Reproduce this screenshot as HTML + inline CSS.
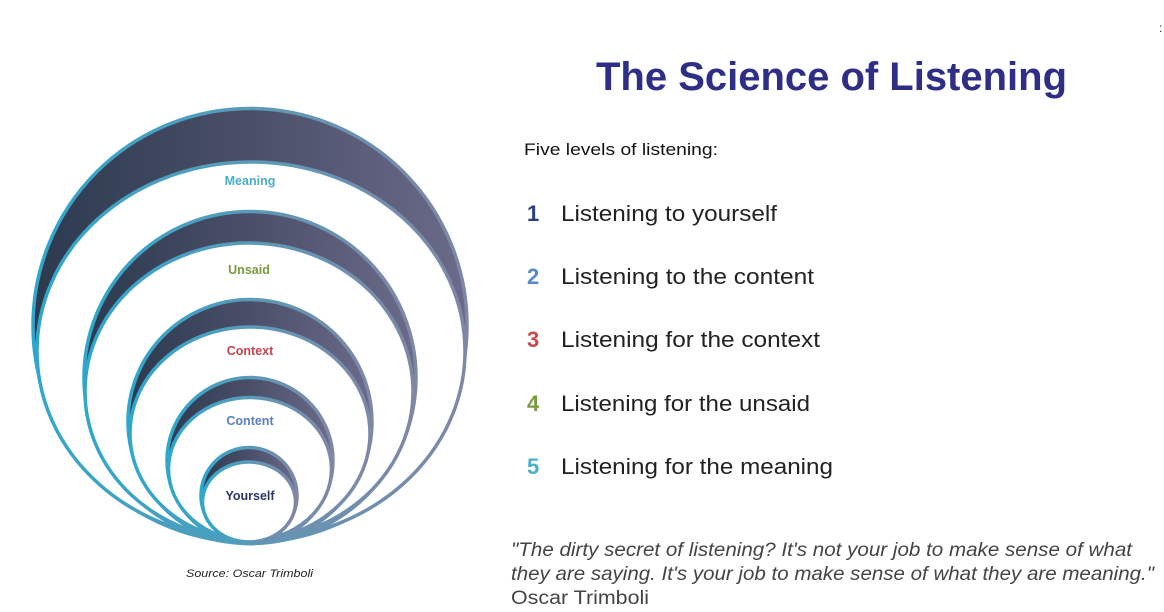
<!DOCTYPE html>
<html><head><meta charset="utf-8"><style>
html,body{margin:0;padding:0;background:#fff;}
svg{display:block;}
text{font-family:"Liberation Sans",sans-serif;}
</style></head><body>
<svg width="1164" height="612" viewBox="0 0 1164 612" xmlns="http://www.w3.org/2000/svg">
<defs>
<linearGradient id="rim" x1="0" y1="0" x2="1" y2="0">
<stop offset="0" stop-color="#2fa7cc"/><stop offset="0.5" stop-color="#5a9ab8"/><stop offset="1" stop-color="#7f87a6"/>
</linearGradient>
<linearGradient id="dark" x1="0" y1="0" x2="1" y2="0">
<stop offset="0" stop-color="#2c3a4e"/><stop offset="0.5" stop-color="#4a4f68"/><stop offset="1" stop-color="#6b6a8a"/>
</linearGradient>
</defs>
<g stroke="url(#rim)" stroke-width="3.5">
<circle cx="250" cy="325.5" r="217" fill="url(#dark)"/>
<ellipse cx="251" cy="351" rx="214" ry="189" fill="#fff"/>
<circle cx="250" cy="377.5" r="166" fill="url(#dark)"/>
<ellipse cx="249" cy="391.5" rx="164" ry="148.5" fill="#fff"/>
<circle cx="250" cy="421.5" r="122" fill="url(#dark)"/>
<ellipse cx="250" cy="433.5" rx="120" ry="106.5" fill="#fff"/>
<circle cx="250" cy="460.5" r="83" fill="url(#dark)"/>
<ellipse cx="250" cy="469" rx="81.5" ry="71.5" fill="#fff"/>
<circle cx="249" cy="495.5" r="48" fill="url(#dark)"/>
<ellipse cx="249" cy="502" rx="46.5" ry="40" fill="#fff"/>
</g>
<g font-weight="bold" font-size="12.5" text-anchor="middle">
<text x="250" y="185" fill="#4aaec8">Meaning</text>
<text x="249" y="274" fill="#7a9a3c">Unsaid</text>
<text x="250" y="355" fill="#c4434e">Context</text>
<text x="250" y="425" fill="#5b7fc0">Content</text>
<text x="250" y="500" fill="#2a3766">Yourself</text>
</g>
<text x="186" y="577" font-size="11" font-style="italic" fill="#222" textLength="127" lengthAdjust="spacingAndGlyphs">Source: Oscar Trimboli</text>
<text x="596" y="90" font-size="40" font-weight="bold" fill="#2e2e86" textLength="471" lengthAdjust="spacingAndGlyphs">The Science of Listening</text>
<text x="524" y="155" font-size="16.5" fill="#111" textLength="194" lengthAdjust="spacingAndGlyphs">Five levels of listening:</text>
<g font-size="22" fill="#222">
<text x="527" y="221" font-weight="bold" fill="#2b3f7a">1</text>
<text x="561" y="221" textLength="216" lengthAdjust="spacingAndGlyphs">Listening to yourself</text>
<text x="527" y="284" font-weight="bold" fill="#5b8ac8">2</text>
<text x="561" y="284" textLength="253" lengthAdjust="spacingAndGlyphs">Listening to the content</text>
<text x="527" y="347" font-weight="bold" fill="#c84a4a">3</text>
<text x="561" y="347" textLength="259" lengthAdjust="spacingAndGlyphs">Listening for the context</text>
<text x="527" y="411" font-weight="bold" fill="#7a9a3c">4</text>
<text x="561" y="411" textLength="249" lengthAdjust="spacingAndGlyphs">Listening for the unsaid</text>
<text x="527" y="474" font-weight="bold" fill="#4bb0c8">5</text>
<text x="561" y="474" textLength="272" lengthAdjust="spacingAndGlyphs">Listening for the meaning</text>
</g>
<g font-size="19" fill="#444">
<text x="511" y="556" font-style="italic" textLength="621" lengthAdjust="spacingAndGlyphs">"The dirty secret of listening? It's not your job to make sense of what</text>
<text x="511" y="580" font-style="italic" textLength="643" lengthAdjust="spacingAndGlyphs">they are saying. It's your job to make sense of what they are meaning."</text>
<text x="511" y="604" textLength="138" lengthAdjust="spacingAndGlyphs">Oscar Trimboli</text>
</g>
<text x="1159" y="32" font-size="12" fill="#333">:</text>
</svg>
</body></html>
